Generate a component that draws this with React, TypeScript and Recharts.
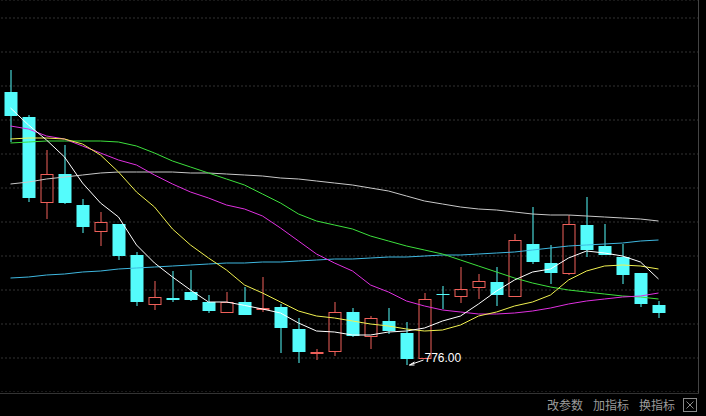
import React from "react";
import { ComposedChart, Bar, Line, XAxis, YAxis, CartesianGrid, ReferenceDot } from "recharts";

// daily sessions, oldest first
const sessions = [
  "01", "02", "03", "04", "05", "06", "07", "08", "09", "10",
  "11", "12", "13", "14", "15", "16", "17", "18", "19", "20",
  "21", "22", "23", "24", "25", "26", "27", "28", "29", "30",
  "31", "32", "33", "34", "35", "36", "37",
];

const opens = [
  912.5, 900, 857, 871.5, 856, 842.5, 846.5, 831, 806, 809.5,
  812.5, 807.5, 802, 807.5, 803.5, 805, 794, 781.5, 782.5, 802.5,
  790, 798, 792, 779, 811.5, 810, 814.5, 817.5, 810, 836.5,
  827, 821.5, 846, 835.5, 830, 822, 806,
];
const highs = [
  923.5, 901, 883.5, 886, 859, 852.5, 846.5, 832.5, 818, 823,
  823.5, 811, 812.5, 815, 820, 806.5, 799.5, 784, 807.5, 804.5,
  800.5, 804.5, 797.5, 812, 815.5, 825, 821.5, 825, 841.5, 855,
  836, 851, 860, 846.5, 836.5, 822, 808,
];
const lows = [
  887.5, 857.5, 849, 856.5, 842, 835.5, 828.5, 805.5, 803.5, 807.5,
  808, 802, 802, 801, 802.5, 782, 777, 778.5, 780.5, 790,
  784, 791.5, 776, 779, 804, 807, 809, 805.5, 810, 826.5,
  816.5, 821, 830, 831, 816.5, 805, 799.5,
];
const closes = [
  900.5, 859.5, 871.5, 857, 845, 847.5, 830.5, 807.5, 810, 808.5,
  808.5, 803, 807.5, 801, 804.5, 794.5, 782.5, 782.5, 802.5, 790.5,
  799.5, 793, 779, 809, 811.5, 814, 818, 811, 838.5, 827.5,
  822, 846.5, 833.5, 831, 821, 806.5, 802,
];

// moving averages
const ma5 = [
  904.5, 896, 888.5, 880, 867, 857, 850, 836, 827, 820,
  813.5, 807.5, 807.5, 805.8, 804, 802, 797, 793, 792.5, 791,
  791, 792.5, 793, 794.5, 798, 800.5, 806.5, 813, 818.5, 822.5,
  824, 829.5, 833, 832, 830.5, 827.5, 819,
];
const ma10 = [
  889, 889.5, 889.5, 889, 886.5, 881, 872.5, 862.5, 855, 844,
  836, 829.5, 823.5, 816, 812, 807.5, 803, 800.5, 799.5, 798,
  796.5, 795.5, 794, 793, 793.5, 796, 800.5, 802.5, 805.5, 807.5,
  811, 818.5, 823, 825.5, 826, 825.5, 824,
];
const ma20 = [
  895.5, 894, 890.5, 889, 885.5, 882, 878.5, 876, 871, 866.5,
  862.5, 859.5, 856, 854, 850.5, 844.5, 838, 831.5, 827, 823,
  816, 812.5, 808, 805.5, 803.5, 802.5, 801.5, 801.5, 802, 803,
  804.5, 806.5, 808, 809, 810, 810.5, 812,
];
const ma30 = [
  887, 887.5, 888, 888, 888, 888, 887.5, 885.5, 882, 878,
  875, 872, 869, 866, 861.5, 857, 851.5, 848, 846, 844,
  840.5, 838, 835.5, 833.5, 831.5, 828.5, 825.5, 822.5, 819.5, 817,
  815, 813.5, 812.5, 811.5, 810.5, 810, 809,
];
const ma60 = [
  866.5, 867.5, 869, 870, 871, 872, 872.5, 872.5, 872.5, 872.5,
  872, 872, 871.5, 871, 870.5, 869.5, 869, 868, 867, 866,
  864.5, 863, 860.5, 858, 856.5, 855, 854, 853.5, 852.5, 851.5,
  851, 851, 850.5, 850, 849.5, 849, 848,
];
const ma120 = [
  819.5, 820, 821, 821.5, 822.5, 823, 824, 824.5, 825, 825.5,
  826, 826.5, 827, 827, 827.5, 827.5, 828, 828.5, 829, 829,
  829.5, 830, 830, 830.5, 831, 831, 831.5, 832, 832.5, 833.5,
  834.5, 835.5, 836, 836.5, 837, 838, 838.5,
];

const priceTicks = [949.5, 932.5, 915.5, 898.5, 881.5, 864.5, 847.5, 830.5, 813.5, 796.5, 779.5];

const CYAN = "#54FCFC";
const RED = "#F0605A";

const data = sessions.map((s, i) => ({
  s,
  open: opens[i],
  high: highs[i],
  low: lows[i],
  close: closes[i],
  range: [lows[i], highs[i]],
  ma5: ma5[i],
  ma10: ma10[i],
  ma20: ma20[i],
  ma30: ma30[i],
  ma60: ma60[i],
  ma120: ma120[i],
}));

const lowest = Math.min(...lows);
const lowestAt = sessions[lows.indexOf(lowest)];

function Candle(props: any) {
  const { x, y, width, height, payload } = props;
  if (!payload || x == null) return null;
  const { open, close, high, low } = payload;
  const top = Math.min(y, y + height);
  const span = Math.abs(height);
  const py = (v: number) => (high === low ? top : top + ((high - v) / (high - low)) * span);
  const cx = x + width / 2;
  const bodyTop = py(Math.max(open, close));
  const bodyBot = py(Math.min(open, close));

  if (close > open) {
    return (
      <g>
        <line x1={cx} x2={cx} y1={py(high)} y2={bodyTop} stroke={RED} />
        <line x1={cx} x2={cx} y1={bodyBot} y2={py(low)} stroke={RED} />
        <rect
          x={x + 0.5}
          y={bodyTop + 0.5}
          width={width - 1}
          height={Math.max(bodyBot - bodyTop - 1, 0)}
          fill="none"
          stroke={RED}
        />
      </g>
    );
  }
  if (close === open) {
    return (
      <g>
        <line x1={cx} x2={cx} y1={py(high)} y2={py(low)} stroke={CYAN} />
        <line x1={x} x2={x + width} y1={bodyTop + 0.5} y2={bodyTop + 0.5} stroke={CYAN} />
      </g>
    );
  }
  return (
    <g>
      <line x1={cx} x2={cx} y1={py(high)} y2={py(low)} stroke={CYAN} />
      <rect x={x} y={bodyTop} width={width} height={Math.max(bodyBot - bodyTop, 1)} fill={CYAN} />
    </g>
  );
}

function LowMark(props: any) {
  const { cx, cy } = props;
  if (cx == null) return null;
  const tx = cx + 3;
  return (
    <g>
      <line x1={tx} y1={cy} x2={tx + 14} y2={cy - 5} stroke="#fff" />
      <line x1={tx} y1={cy} x2={tx + 5} y2={cy - 3} stroke="#fff" />
      <line x1={tx} y1={cy} x2={tx + 5} y2={cy} stroke="#fff" />
      <text x={tx + 15} y={cy - 3} fill="#fff" fontSize={12} fontFamily="Liberation Sans, sans-serif">
        {lowest.toFixed(2)}
      </text>
    </g>
  );
}

const maLines = [
  { key: "ma120", color: "#3FB8E0" },
  { key: "ma60", color: "#C8C8C8" },
  { key: "ma30", color: "#3DE03D" },
  { key: "ma20", color: "#E030E0" },
  { key: "ma10", color: "#F0F050" },
  { key: "ma5", color: "#FFFFFF" },
];

export default function App() {
  return (
    <div
      style={{
        position: "absolute",
        top: 0,
        left: 0,
        width: 706,
        height: 416,
        background: "#000",
        overflow: "hidden",
      }}
    >
      <ComposedChart
        width={706}
        height={392}
        data={data}
        margin={{ top: 0, right: 8, bottom: 0, left: 1.5 }}
      >
        <CartesianGrid vertical={false} stroke="#666" strokeDasharray="1 3" />
        <XAxis dataKey="s" hide padding={{ left: 0, right: 30.5 }} />
        <YAxis hide domain={[762.5, 958.5]} ticks={priceTicks} allowDataOverflow />
        <Bar dataKey="range" barSize={13} shape={(p: any) => <Candle {...p} />} isAnimationActive={false} />
        {maLines.map((m) => (
          <Line
            key={m.key}
            type="linear"
            dataKey={m.key}
            stroke={m.color}
            strokeWidth={1}
            dot={false}
            activeDot={false}
            isAnimationActive={false}
          />
        ))}
        <ReferenceDot x={lowestAt} y={lowest} shape={(p: any) => <LowMark {...p} />} />
      </ComposedChart>
      <div style={{ position: "absolute", left: 698, top: 0, width: 1, height: 393, background: "#444" }} />
      <div style={{ position: "absolute", left: 0, top: 393, width: 699, height: 1, background: "#333" }} />
      <div
        style={{
          position: "absolute",
          left: 547,
          top: 397,
          display: "flex",
          gap: 10,
          fontFamily: "'Noto Sans CJK SC', sans-serif",
          fontSize: 12,
          lineHeight: "16px",
          color: "#9a9a9a",
        }}
      >
        <span>改参数</span>
        <span>加指标</span>
        <span>换指标</span>
      </div>
      <svg style={{ position: "absolute", left: 683, top: 398 }} width={14} height={15}>
        <rect x={0.5} y={0.5} width={13} height={13} fill="none" stroke="#8a8a8a" />
        <line x1={3.5} y1={3.5} x2={10.5} y2={10.5} stroke="#8a8a8a" />
        <line x1={10.5} y1={3.5} x2={3.5} y2={10.5} stroke="#8a8a8a" />
      </svg>
    </div>
  );
}
